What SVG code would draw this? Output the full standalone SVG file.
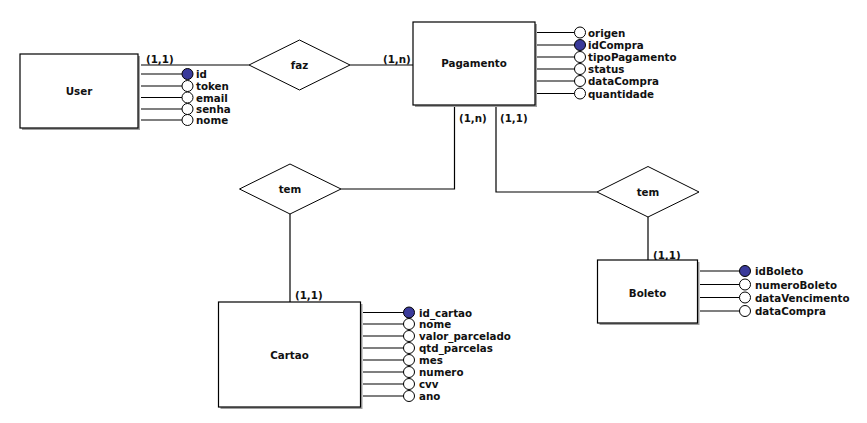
<svg xmlns="http://www.w3.org/2000/svg" width="867" height="423" viewBox="0 0 867 423">
<style>
text{font-family:"DejaVu Sans","Liberation Sans",sans-serif;font-weight:bold;font-size:10.3px;fill:#111}
.ent{fill:#fff;stroke:#000;stroke-width:1.2}
.sh{fill:#a0a0a0}
.rel{fill:#fff;stroke:#000;stroke-width:1}
.ln{stroke:#000;stroke-width:1.2;fill:none}
.at{fill:#fff;stroke:#000;stroke-width:1}
.pk{fill:#3a3a9a;stroke:#000;stroke-width:1}
.c{text-anchor:middle}
</style>
<rect width="867" height="423" fill="#fff"/>
<g id="connectors">
<polyline class="ln" points="141,65 249,65"/>
<polyline class="ln" points="350,65 413,65"/>
<polyline class="ln" points="454.5,106 454.5,189 341,189"/>
<polyline class="ln" points="496,106 496,192 597,192"/>
<polyline class="ln" points="290,214 290,302"/>
<polyline class="ln" points="648,217 648,260"/>
<text x="146" y="63">(1,1)</text>
<text x="383" y="63">(1,n)</text>
<text x="459" y="122">(1,n)</text>
<text x="500" y="122">(1,1)</text>
<text x="295" y="299">(1,1)</text>
<text x="653" y="259">(1,1)</text>
</g>
<g id="User">
<rect class="sh" x="22" y="56" width="118" height="74"/>
<rect class="ent" x="20" y="54" width="118" height="74"/>
<text class="c" x="79" y="95">User</text>
<g class="attrs">
<line class="ln" x1="141" y1="74" x2="182" y2="74"/>
<line class="ln" x1="141" y1="86" x2="182" y2="86"/>
<line class="ln" x1="141" y1="97.5" x2="182" y2="97.5"/>
<line class="ln" x1="141" y1="109" x2="182" y2="109"/>
<line class="ln" x1="141" y1="120" x2="182" y2="120"/>
<circle class="at" cx="187.5" cy="86" r="5.5"/>
<circle class="at" cx="187.5" cy="97.5" r="5.5"/>
<circle class="at" cx="187.5" cy="109" r="5.5"/>
<circle class="at" cx="187.5" cy="120" r="5.5"/>
<circle class="pk" cx="187.5" cy="74" r="5.5"/>
<text x="196" y="78">id</text>
<text x="196" y="90">token</text>
<text x="196" y="101.5">email</text>
<text x="196" y="113">senha</text>
<text x="196" y="124">nome</text>
</g>
</g>
<g id="faz">
<polygon class="rel" points="249,65 299.5,40 350,65 299.5,90"/>
<text class="c" x="299.5" y="69">faz</text>
</g>
<g id="Pagamento">
<rect class="sh" x="415" y="24" width="122" height="83"/>
<rect class="ent" x="413" y="22" width="122" height="83"/>
<text class="c" x="474" y="67">Pagamento</text>
<g class="attrs">
<line class="ln" x1="537" y1="32.5" x2="575" y2="32.5"/>
<line class="ln" x1="537" y1="45" x2="575" y2="45"/>
<line class="ln" x1="537" y1="57" x2="575" y2="57"/>
<line class="ln" x1="537" y1="69" x2="575" y2="69"/>
<line class="ln" x1="537" y1="81" x2="575" y2="81"/>
<line class="ln" x1="537" y1="93.5" x2="575" y2="93.5"/>
<circle class="at" cx="580" cy="32.5" r="5.5"/>
<circle class="at" cx="580" cy="57" r="5.5"/>
<circle class="at" cx="580" cy="69" r="5.5"/>
<circle class="at" cx="580" cy="81" r="5.5"/>
<circle class="at" cx="580" cy="93.5" r="5.5"/>
<circle class="pk" cx="580" cy="45" r="5.5"/>
<text x="588" y="36.5">origen</text>
<text x="588" y="49">idCompra</text>
<text x="588" y="61">tipoPagamento</text>
<text x="588" y="73">status</text>
<text x="588" y="85">dataCompra</text>
<text x="588" y="97.5">quantidade</text>
</g>
</g>
<g id="tem1">
<polygon class="rel" points="239.5,189 290,164 341,189 290,214"/>
<text class="c" x="290" y="193">tem</text>
</g>
<g id="tem2">
<polygon class="rel" points="597,192 648,166.5 699,192 648,217"/>
<text class="c" x="648" y="196">tem</text>
</g>
<g id="Cartao">
<rect class="sh" x="220.5" y="304" width="142" height="105"/>
<rect class="ent" x="218.5" y="302" width="142" height="105"/>
<text class="c" x="289.5" y="359">Cartao</text>
<g class="attrs">
<line class="ln" x1="363" y1="312.5" x2="404" y2="312.5"/>
<line class="ln" x1="363" y1="324" x2="404" y2="324"/>
<line class="ln" x1="363" y1="336" x2="404" y2="336"/>
<line class="ln" x1="363" y1="348" x2="404" y2="348"/>
<line class="ln" x1="363" y1="360" x2="404" y2="360"/>
<line class="ln" x1="363" y1="372" x2="404" y2="372"/>
<line class="ln" x1="363" y1="384" x2="404" y2="384"/>
<line class="ln" x1="363" y1="396" x2="404" y2="396"/>
<circle class="at" cx="409" cy="324" r="5.5"/>
<circle class="at" cx="409" cy="336" r="5.5"/>
<circle class="at" cx="409" cy="348" r="5.5"/>
<circle class="at" cx="409" cy="360" r="5.5"/>
<circle class="at" cx="409" cy="372" r="5.5"/>
<circle class="at" cx="409" cy="384" r="5.5"/>
<circle class="at" cx="409" cy="396" r="5.5"/>
<circle class="pk" cx="409" cy="312.5" r="5.5"/>
<text x="419" y="316.5">id_cartao</text>
<text x="419" y="328">nome</text>
<text x="419" y="340">valor_parcelado</text>
<text x="419" y="352">qtd_parcelas</text>
<text x="419" y="364">mes</text>
<text x="419" y="376">numero</text>
<text x="419" y="388">cvv</text>
<text x="419" y="400">ano</text>
</g>
</g>
<g id="Boleto">
<rect class="sh" x="599.5" y="262" width="100" height="63"/>
<rect class="ent" x="597.5" y="260" width="100" height="63"/>
<text class="c" x="647.5" y="297">Boleto</text>
<g class="attrs">
<line class="ln" x1="700" y1="271" x2="740" y2="271"/>
<line class="ln" x1="700" y1="284.5" x2="740" y2="284.5"/>
<line class="ln" x1="700" y1="297.5" x2="740" y2="297.5"/>
<line class="ln" x1="700" y1="311" x2="740" y2="311"/>
<circle class="at" cx="745" cy="284.5" r="5.5"/>
<circle class="at" cx="745" cy="297.5" r="5.5"/>
<circle class="at" cx="745" cy="311" r="5.5"/>
<circle class="pk" cx="745" cy="271" r="5.5"/>
<text x="755" y="275">idBoleto</text>
<text x="755" y="288.5">numeroBoleto</text>
<text x="755" y="301.5">dataVencimento</text>
<text x="755" y="315">dataCompra</text>
</g>
</g>
</svg>
